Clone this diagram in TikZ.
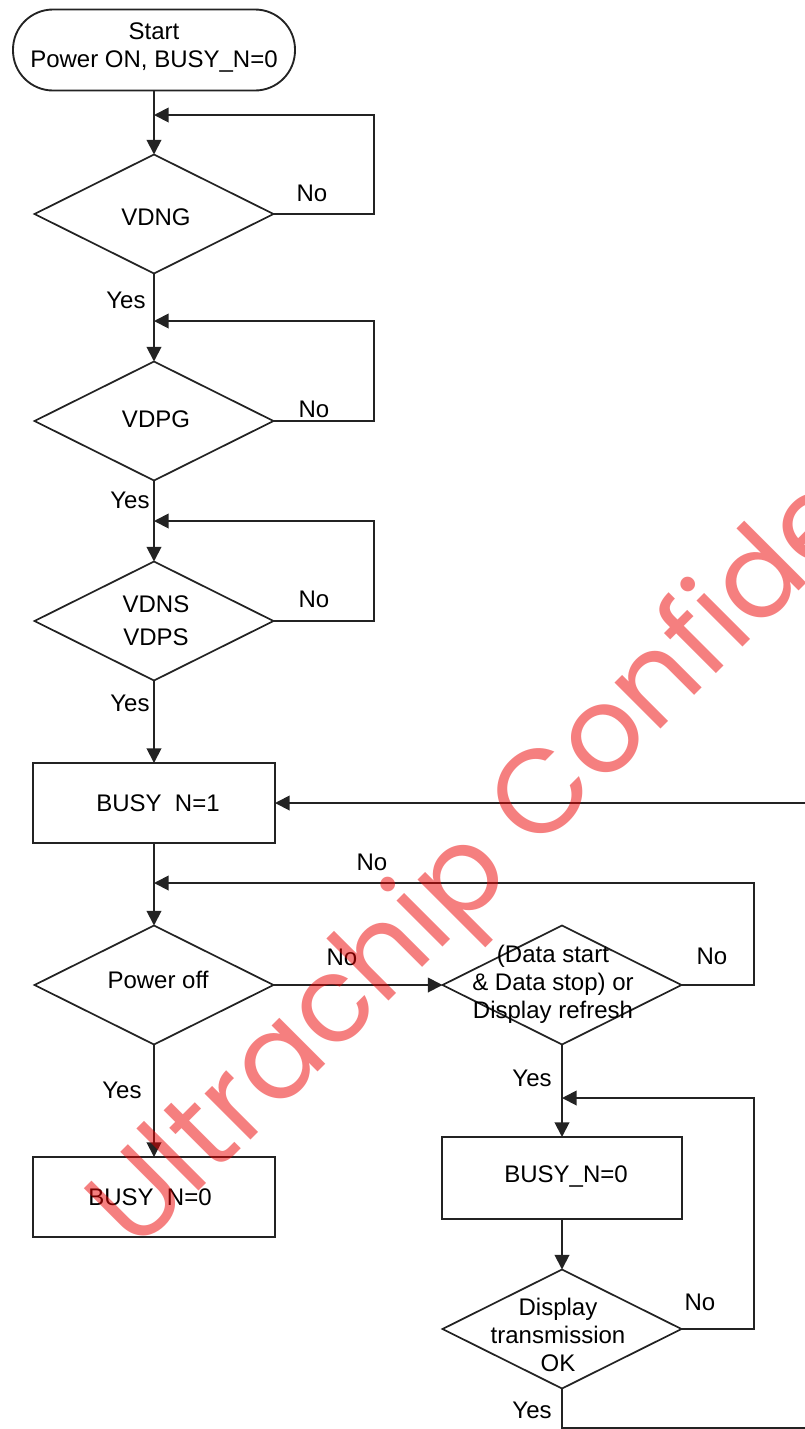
\documentclass[tikz,border=0pt]{standalone}
\usepackage{fontspec}
\setmainfont{Liberation Sans}
\newfontfamily\wmfont{Poppins}
\usetikzlibrary{arrows.meta,shapes.geometric}
\definecolor{wm}{RGB}{235,0,0}
\definecolor{ln}{RGB}{35,35,35}
\begin{document}
\begin{tikzpicture}[x=0.75pt,y=-0.75pt,
  font=\fontsize{18}{21}\selectfont,
  line/.style={draw=ln,line width=1.4pt},
  arr/.style={line,-{Triangle[length=11pt,width=11pt]}},
  dia/.style={diamond,draw=ln,line width=1.3pt,inner sep=0pt,outer sep=0pt,minimum width=239*0.75pt,minimum height=119*0.75pt},
  box/.style={rectangle,draw=ln,line width=1.4pt,inner sep=0pt,outer sep=0pt,minimum width=242*0.75pt,minimum height=80*0.75pt},
  term/.style={rectangle,draw=ln,line width=1.4pt,rounded corners=30pt,inner sep=0pt,outer sep=0pt,minimum width=282*0.75pt,minimum height=81*0.75pt},
  txt/.style={align=center,inner sep=0pt},
  lbl/.style={inner sep=0pt}]
\useasboundingbox (0,0) rectangle (804,1429);

% shapes
\node[term] (start) at (154,50) {};
\node[txt] (ts) at (154,47) {Start\\Power ON, BUSY\_N=0};
\node[dia] (d1) at (154,214) {};
\node[txt] (t1) at (156,217) {VDNG};
\node[dia] (d2) at (154,421) {};
\node[txt] (t2) at (156,419) {VDPG};
\node[dia] (d3) at (154,621) {};
\node[txt] (t3) at (156,621) {VDNS\\[4pt]VDPS};
\node[box] (b1) at (154,803) {};
\node[txt] (tb1) at (158,803) {BUSY\hspace{0.55em}N=1};
\node[dia] (d4) at (154,985) {};
\node[txt] (t4) at (158,980) {Power off};
\node[dia] (d5) at (562,985) {};
\node[txt] (t5) at (553,984) {(Data start\\\& Data stop) or\\Display refresh};
\node[box] (b2) at (154,1197) {};
\node[txt] (tb2) at (150,1197) {BUSY\hspace{0.55em}N=0};
\node[box,minimum width=240*0.75pt,minimum height=82*0.75pt] (b3) at (562,1178) {};
\node[txt] (tb3) at (566,1176) {BUSY\_N=0};
\node[dia] (d6) at (562,1329) {};
\node[txt] (t6) at (558,1335) {Display\\transmission\\OK};

% helper coordinates
\coordinate (l1) at (374,115);
\coordinate (l2) at (374,321);
\coordinate (l3) at (374,521);
\coordinate (l4) at (754,883);
\coordinate (l5) at (754,1098);
\coordinate (r1) at (812,803);
\coordinate (r2) at (812,1428);

% connectors
\draw[arr] (start.south) -- (d1.north);
\draw[arr] (d1.east) -- (d1.east -| l1) -- (l1) -- (l1 -| start.south);
\draw[arr] (d1.south) -- (d2.north);
\draw[arr] (d2.east) -- (d2.east -| l2) -- (l2) -- (l2 -| d2.north);
\draw[arr] (d2.south) -- (d3.north);
\draw[arr] (d3.east) -- (d3.east -| l3) -- (l3) -- (l3 -| d3.north);
\draw[arr] (d3.south) -- (b1.north);
\draw[arr] (r1) -- (b1.east);
\draw[arr] (b1.south) -- (d4.north);
\draw[arr] (d5.east) -- (d5.east -| l4) -- (l4) -- (l4 -| d4.north);
\draw[arr] (d4.east) -- (d5.west);
\draw[arr] (d4.south) -- (b2.north);
\draw[arr] (d5.south) -- (b3.north);
\draw[arr] (b3.south) -- (d6.north);
\draw[arr] (d6.east) -- (d6.east -| l5) -- (l5) -- (l5 -| b3.north);
\draw[line] (d6.south) -- (d6.south |- r2) -- (r2);

% labels
\node[lbl] (n1) at (312,193) {No};
\node[lbl] (y1) at (126,300) {Yes};
\node[lbl] (n2) at (314,409) {No};
\node[lbl] (y2) at (130,500) {Yes};
\node[lbl] (n3) at (314,599) {No};
\node[lbl] (y3) at (130,703) {Yes};
\node[lbl] (n4) at (372,862) {No};
\node[lbl] (n5) at (342,957) {No};
\node[lbl] (n6) at (712,956) {No};
\node[lbl] (y4) at (122,1090) {Yes};
\node[lbl] (y5) at (532,1078) {Yes};
\node[lbl] (n7) at (700,1302) {No};
\node[lbl] (y6) at (532,1410) {Yes};

% watermark
\begin{scope}
\clip (0,0) rectangle (804,1429);
\node[font=\wmfont\fontsize{89}{89}\selectfont,text=wm,opacity=0.5,rotate=45,anchor=base west,inner sep=0pt] (wmark) at (136,1254) {Ultrachip Confide};
\end{scope}
\end{tikzpicture}
\end{document}
